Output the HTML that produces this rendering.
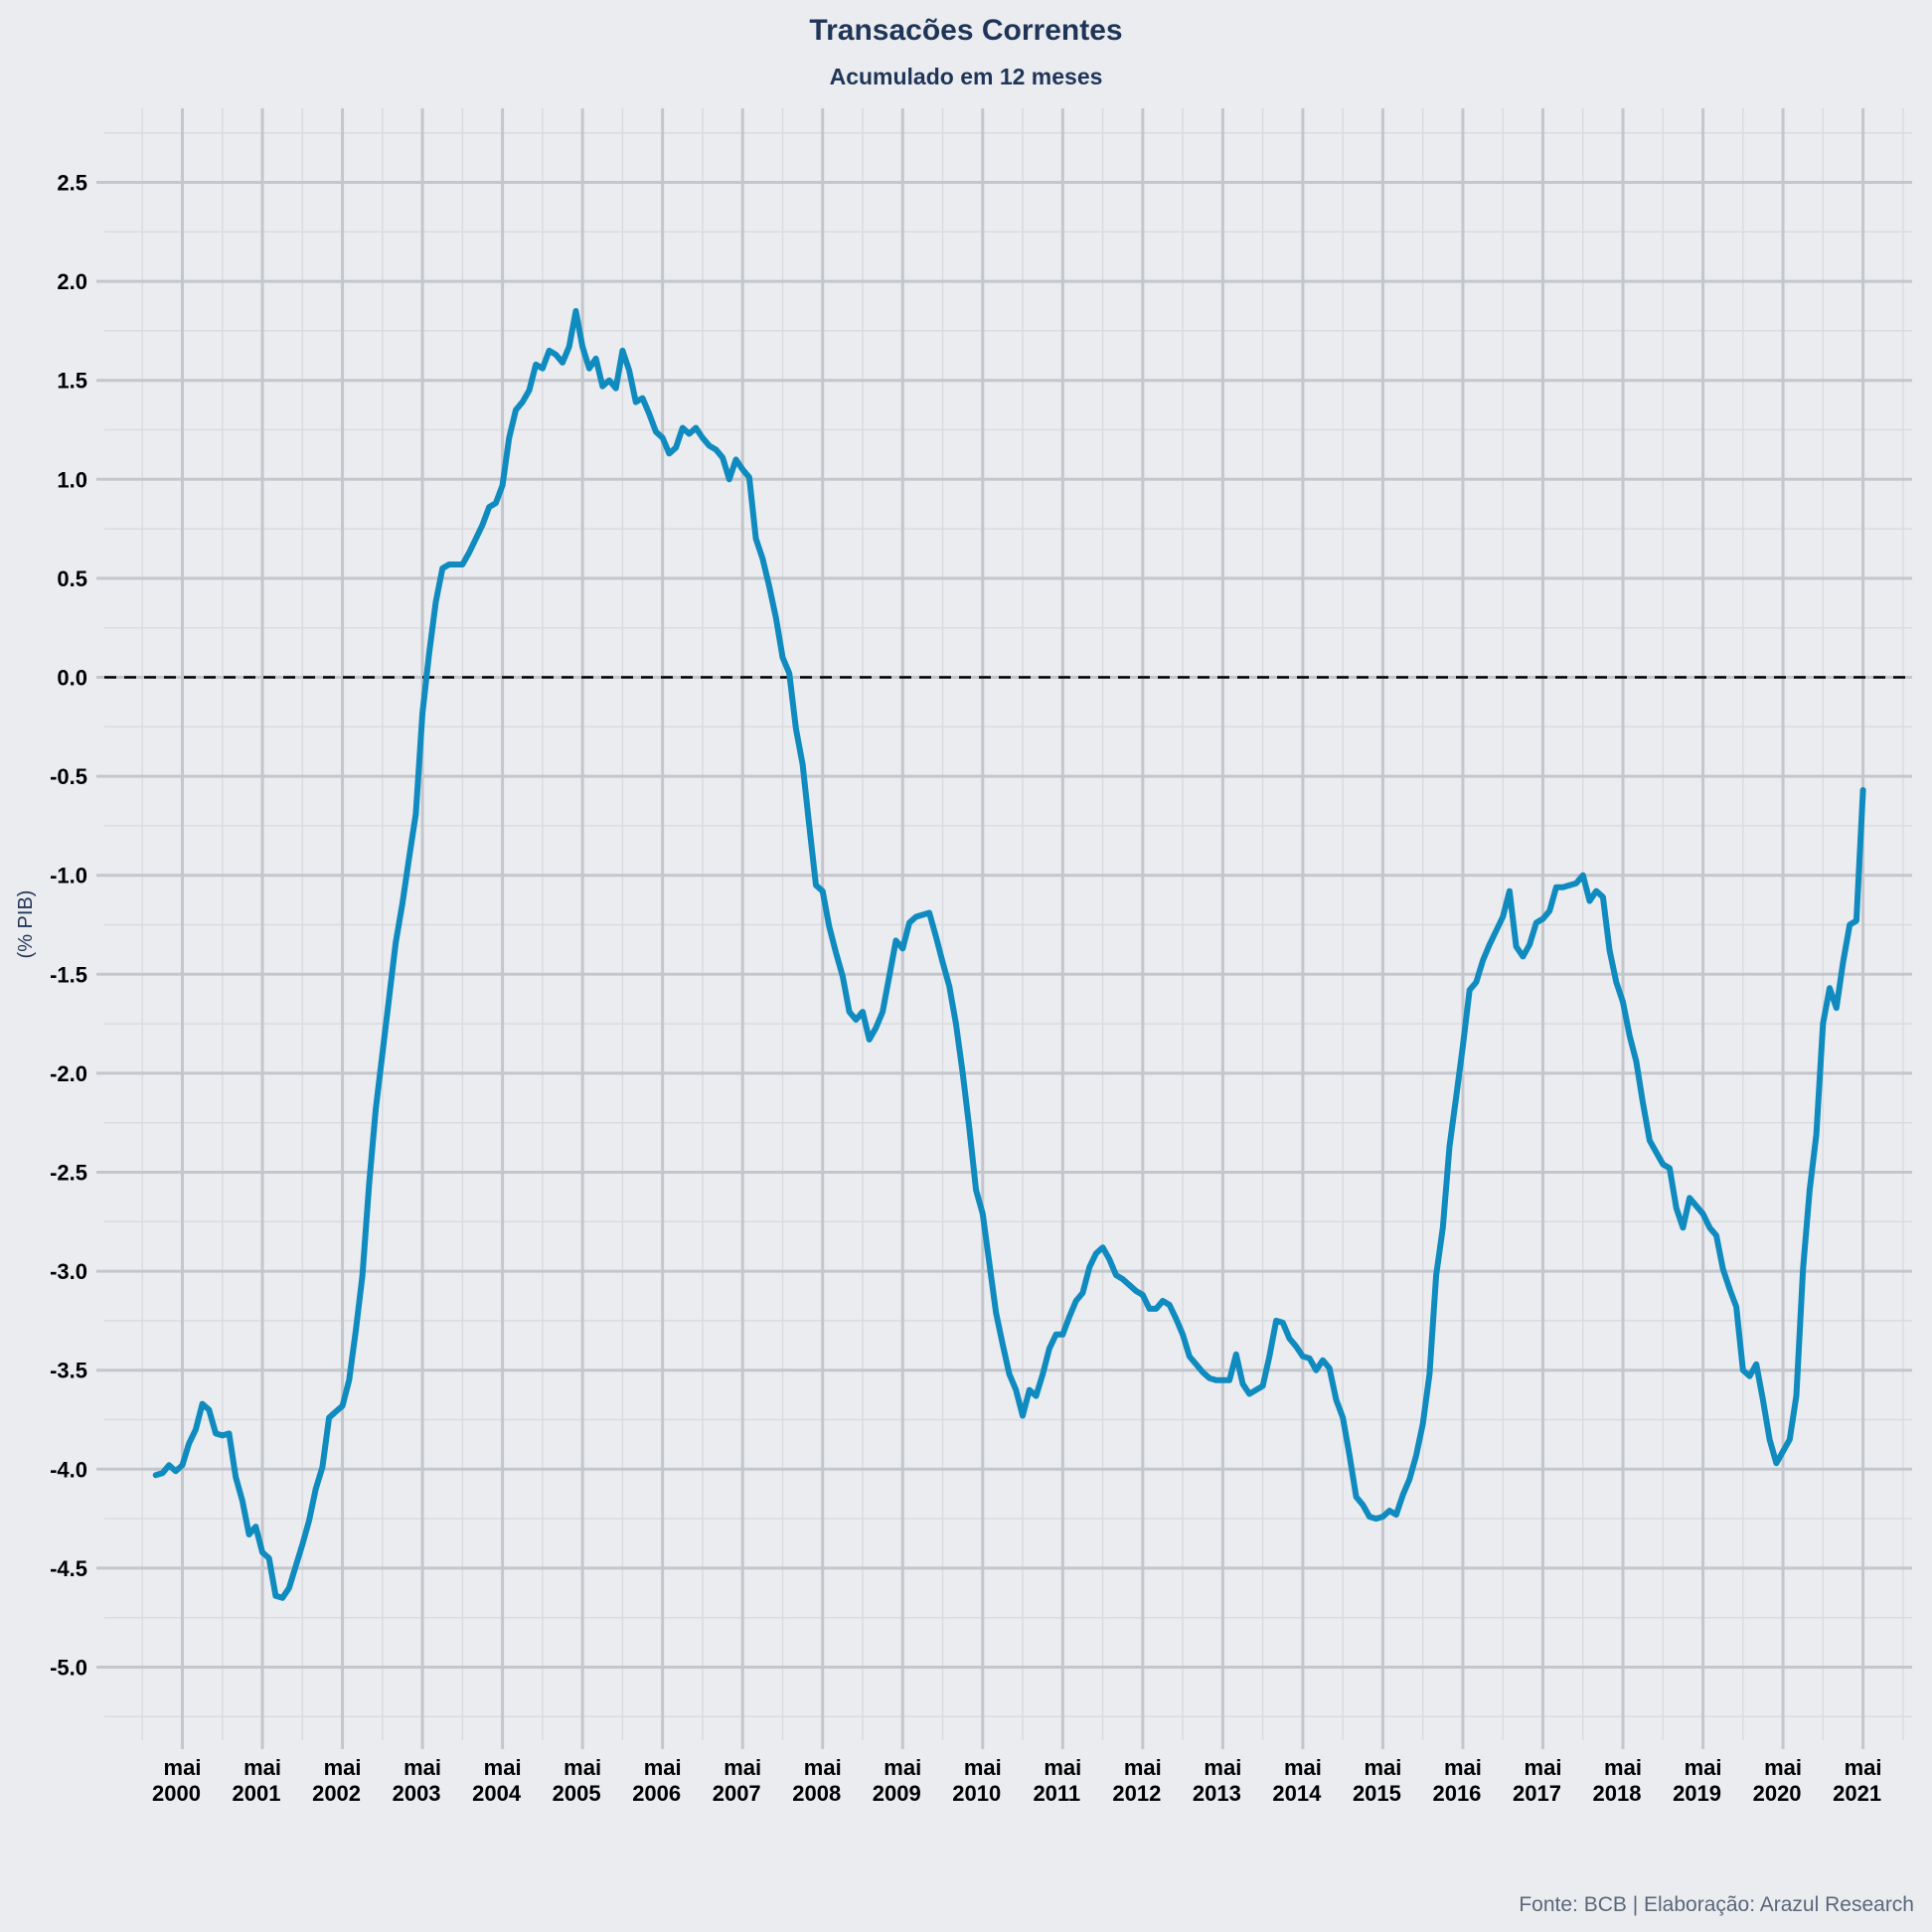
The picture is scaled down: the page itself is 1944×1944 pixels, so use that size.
<!DOCTYPE html>
<html><head><meta charset="utf-8"><style>
html,body{margin:0;padding:0;background:#ebecf0;}
svg{display:block;font-family:"Liberation Sans",sans-serif;}
</style></head><body>
<svg id="chart" width="1944" height="1944" viewBox="0 0 1944 1944" xmlns="http://www.w3.org/2000/svg">
<rect x="0" y="0" width="1944" height="1944" fill="#ebecf0"/>
<g id="grid"></g>
<g id="axes"></g>
<g id="series"></g>
<text x="972" y="40" text-anchor="middle" font-size="30" font-weight="bold" fill="#1f3557">Transacões Correntes</text>
<text x="972" y="85" text-anchor="middle" font-size="23" font-weight="bold" fill="#1f3557">Acumulado em 12 meses</text>
<text transform="translate(32,930) rotate(-90)" text-anchor="middle" font-size="20" fill="#1f3557">(% PIB)</text>
<text x="1926" y="1923" text-anchor="end" font-size="21" fill="#5a6779">Fonte: BCB | Elaboração: Arazul Research</text>
</svg>
<script>
const startYear = 2000; // monthly series starting Jan 2000
const values = [
-4.03,-4.02,-3.98,-4.01,-3.98,-3.87,-3.80,-3.67,-3.70,-3.82,-3.83,-3.82,
-4.04,-4.16,-4.33,-4.29,-4.42,-4.45,-4.64,-4.65,-4.60,-4.49,-4.38,-4.26,
-4.10,-3.99,-3.74,-3.71,-3.68,-3.55,-3.30,-3.02,-2.56,-2.18,-1.90,-1.62,
-1.34,-1.14,-0.91,-0.69,-0.18,0.12,0.38,0.55,0.57,0.57,0.57,0.63,
0.70,0.77,0.86,0.88,0.97,1.21,1.35,1.39,1.45,1.58,1.56,1.65,
1.63,1.59,1.67,1.85,1.67,1.56,1.61,1.47,1.50,1.46,1.65,1.55,
1.39,1.41,1.33,1.24,1.21,1.13,1.16,1.26,1.23,1.26,1.21,1.17,
1.15,1.11,1.00,1.10,1.05,1.01,0.70,0.60,0.46,0.30,0.10,0.02,
-0.26,-0.44,-0.75,-1.05,-1.08,-1.26,-1.39,-1.51,-1.69,-1.73,-1.69,-1.83,
-1.77,-1.69,-1.51,-1.33,-1.37,-1.24,-1.21,-1.20,-1.19,-1.31,-1.44,-1.56,
-1.75,-2.00,-2.28,-2.59,-2.71,-2.96,-3.21,-3.37,-3.52,-3.60,-3.73,-3.60,
-3.63,-3.52,-3.39,-3.32,-3.32,-3.23,-3.15,-3.11,-2.98,-2.91,-2.88,-2.94,
-3.02,-3.04,-3.07,-3.10,-3.12,-3.19,-3.19,-3.15,-3.17,-3.24,-3.32,-3.43,
-3.47,-3.51,-3.54,-3.55,-3.55,-3.55,-3.42,-3.57,-3.62,-3.60,-3.58,-3.43,
-3.25,-3.26,-3.34,-3.38,-3.43,-3.44,-3.50,-3.45,-3.49,-3.65,-3.74,-3.93,
-4.14,-4.18,-4.24,-4.25,-4.24,-4.21,-4.23,-4.13,-4.05,-3.93,-3.77,-3.52,
-3.02,-2.78,-2.37,-2.12,-1.86,-1.58,-1.54,-1.43,-1.35,-1.28,-1.21,-1.08,
-1.36,-1.41,-1.35,-1.24,-1.22,-1.18,-1.06,-1.06,-1.05,-1.04,-1.00,-1.13,
-1.08,-1.11,-1.38,-1.54,-1.64,-1.81,-1.94,-2.15,-2.34,-2.40,-2.46,-2.48,
-2.68,-2.78,-2.63,-2.67,-2.71,-2.78,-2.82,-2.99,-3.09,-3.18,-3.50,-3.53,
-3.47,-3.65,-3.85,-3.97,-3.91,-3.85,-3.63,-2.99,-2.59,-2.31,-1.75,-1.57,
-1.67,-1.44,-1.25,-1.23,-0.57
];
const yTicks = [2.5,2.0,1.5,1.0,0.5,0.0,-0.5,-1.0,-1.5,-2.0,-2.5,-3.0,-3.5,-4.0,-4.5,-5.0];
const xTickYears = [2000,2001,2002,2003,2004,2005,2006,2007,2008,2009,2010,2011,2012,2013,2014,2015,2016,2017,2018,2019,2020,2021];

const NS = "http://www.w3.org/2000/svg";
const P = {l:105, r:1924, t:109, b:1751};
function xS(i){ return 183.5 + (i-4)*(1874.6-183.5)/252; }
function yS(v){ return 681.5 - v*199.2; }
function mk(tag, attrs, parent){
  const e = document.createElementNS(NS, tag);
  for (const k in attrs) e.setAttribute(k, attrs[k]);
  parent.appendChild(e); return e;
}
const grid = document.getElementById('grid');
const axes = document.getElementById('axes');
const series = document.getElementById('series');

// minor horizontal
for (let v=-5.25; v<=2.76; v+=0.5){
  const l = mk('line',{x1:P.l,x2:P.r,y1:yS(v),y2:yS(v),stroke:'#d9dbdf','stroke-width':1.5},grid);
  
  
}
// minor vertical (November)
for (let i=-2; i<=262; i+=12){
  const l = mk('line',{x1:xS(i),x2:xS(i),y1:P.t,y2:P.b,stroke:'#d9dbdf','stroke-width':1.5},grid);
  
  
}
// major horizontal
yTicks.forEach(v=>{
  const l = mk('line',{x1:P.l-8,x2:P.r,y1:yS(v),y2:yS(v),stroke:'#c3c6cb','stroke-width':3},grid);
  
  
  const t = mk('text',{x:88,y:yS(v)+8,'text-anchor':'end','font-size':22,'font-weight':'bold',fill:'#000'},axes);
  t.textContent = v.toFixed(1);
  
  
});
// major vertical (May)
xTickYears.forEach(yr=>{
  const i = (yr-startYear)*12+4;
  const x = xS(i);
  const l = mk('line',{x1:x,x2:x,y1:P.t,y2:P.b+9,stroke:'#c3c6cb','stroke-width':3},grid);
  
  
  const t1 = mk('text',{x:x,y:1786,'text-anchor':'middle','font-size':22,'font-weight':'bold',fill:'#000'},axes);
  t1.textContent = 'mai';
  
  
  const t2 = mk('text',{x:x-6,y:1812,'text-anchor':'middle','font-size':22,'font-weight':'bold',fill:'#000'},axes);
  t2.textContent = String(yr);
  
  
});
// zero line
const z = mk('line',{x1:P.l,x2:P.r,y1:yS(0),y2:yS(0),stroke:'#000','stroke-width':2.5,'stroke-dasharray':'12,8'},series);


// series
const pts = values.map((v,i)=>xS(i).toFixed(1)+','+yS(v).toFixed(1)).join(' ');
const pl = mk('polyline',{points:pts,fill:'none',stroke:'#0f8bbf','stroke-width':6,'stroke-linejoin':'round','stroke-linecap':'round'},series);


</script>
</body></html>
